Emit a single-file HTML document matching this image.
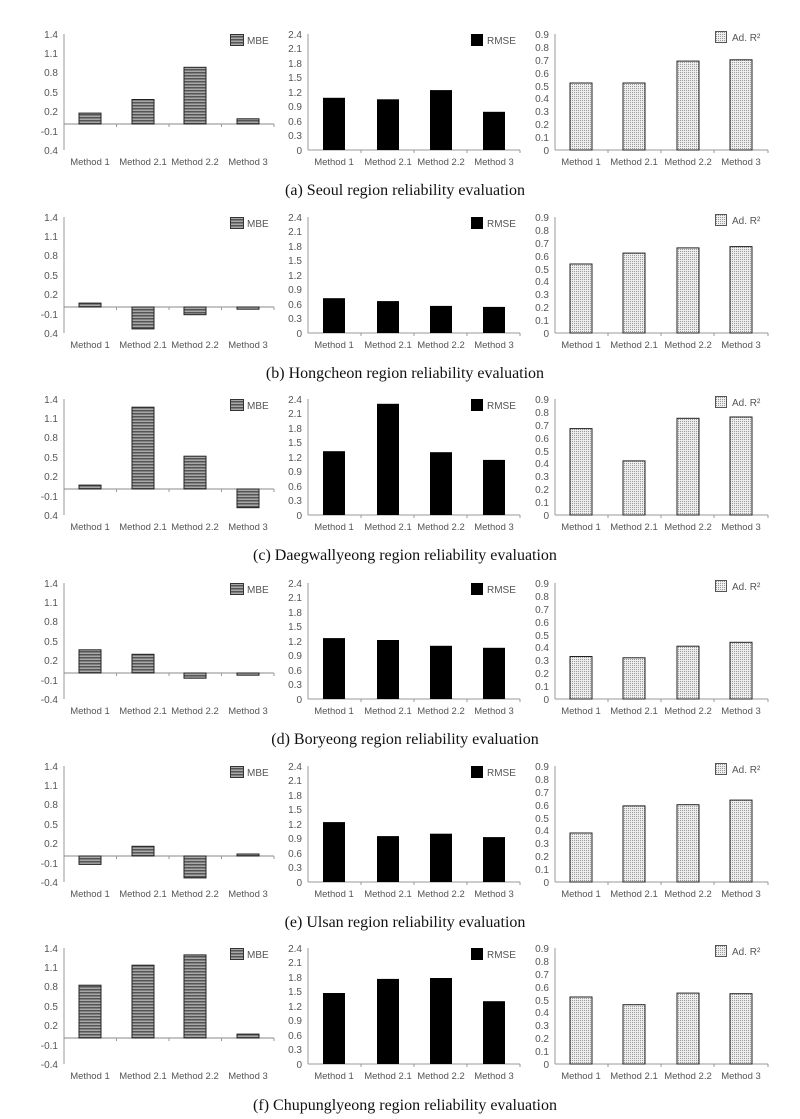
<!DOCTYPE html>
<html><head><meta charset="utf-8"><style>
body{margin:0;background:#fff}
svg{display:block}
.t{font-family:"Liberation Sans",sans-serif;font-size:10px;fill:#555}
.m{font-size:9.5px}
.c{font-family:"Liberation Serif",serif;font-size:16px;fill:#111}
</style></head><body>
<svg width="800" height="1119" viewBox="0 0 800 1119" xmlns="http://www.w3.org/2000/svg">
<defs>
<pattern id="st" patternUnits="userSpaceOnUse" width="4" height="3"><rect width="4" height="3" fill="#a8a8a8"/><rect width="4" height="1.5" fill="#555"/></pattern>
<pattern id="dt" patternUnits="userSpaceOnUse" width="2" height="2"><rect width="2" height="2" fill="#eee"/><rect width="1" height="1" fill="#999"/></pattern>
<g id="frame">
<line x1="64" y1="34" x2="64" y2="150" stroke="#999"/>
<line x1="64" y1="124" x2="274" y2="124" stroke="#888"/>
<path d="M116.5 124v3M169 124v3M221.5 124v3M274 124v3" stroke="#999"/>
<line x1="308" y1="34" x2="308" y2="150" stroke="#999"/>
<line x1="308" y1="150" x2="520" y2="150" stroke="#999"/>
<path d="M361 150v3M414 150v3M467 150v3M520 150v3" stroke="#999"/>
<line x1="555" y1="34" x2="555" y2="150" stroke="#999"/>
<line x1="555" y1="150" x2="768" y2="150" stroke="#999"/>
<path d="M608 150v3M661 150v3M714 150v3M768 150v3" stroke="#999"/>
<rect x="230.5" y="34.5" width="13" height="11" fill="url(#st)" stroke="#333"/>
<rect x="471" y="34" width="12" height="12" fill="#000"/>
<rect x="715.5" y="31.5" width="11" height="11" fill="url(#dt)" stroke="#555"/>
</g>
</defs>
<g transform="translate(0,0)">
<use href="#frame"/>
<g class="t" text-anchor="end"><text x="58" y="38">1.4</text><text x="58" y="57">1.1</text><text x="58" y="76">0.8</text><text x="58" y="96">0.5</text><text x="58" y="115">0.2</text><text x="58" y="135">-0.1</text><text x="58" y="154">0.4</text>
<text x="302" y="38">2.4</text><text x="302" y="52">2.1</text><text x="302" y="67">1.8</text><text x="302" y="81">1.5</text><text x="302" y="96">1.2</text><text x="302" y="110">0.9</text><text x="302" y="125">0.6</text><text x="302" y="139">0.3</text><text x="302" y="154">0</text>
<text x="549" y="38">0.9</text><text x="549" y="51">0.8</text><text x="549" y="64">0.7</text><text x="549" y="77">0.6</text><text x="549" y="90">0.5</text><text x="549" y="102">0.4</text><text x="549" y="115">0.3</text><text x="549" y="128">0.2</text><text x="549" y="141">0.1</text><text x="549" y="154">0</text></g>
<g class="t m" text-anchor="middle"><text x="90" y="165">Method 1</text><text x="143" y="165">Method 2.1</text><text x="195" y="165">Method 2.2</text><text x="248" y="165">Method 3</text>
<text x="334" y="165">Method 1</text><text x="388" y="165">Method 2.1</text><text x="441" y="165">Method 2.2</text><text x="494" y="165">Method 3</text>
<text x="581" y="165">Method 1</text><text x="634" y="165">Method 2.1</text><text x="688" y="165">Method 2.2</text><text x="741" y="165">Method 3</text></g>
<text class="t" x="247" y="44">MBE</text><text class="t" x="487" y="44">RMSE</text><text class="t" x="732" y="41">Ad. R²</text>
<g stroke="#222" fill="url(#st)"><rect x="79" y="113.1" width="22" height="10.9"/><rect x="132" y="99.5" width="22" height="24.5"/><rect x="184" y="67.3" width="22" height="56.7"/><rect x="237" y="118.8" width="22" height="5.2"/></g>
<g fill="#000"><rect x="323" y="97.8" width="22" height="52.2"/><rect x="377" y="99.3" width="22" height="50.7"/><rect x="430" y="90.1" width="22" height="59.9"/><rect x="483" y="111.8" width="22" height="38.2"/></g>
<g stroke="#222" fill="url(#dt)"><rect x="570" y="83" width="22" height="67"/><rect x="623" y="83" width="22" height="67"/><rect x="677" y="61.1" width="22" height="88.9"/><rect x="730" y="59.8" width="22" height="90.2"/></g>
<text class="c" x="405" y="195" text-anchor="middle">(a) Seoul region reliability evaluation</text>
</g>

<g transform="translate(0,183)">
<use href="#frame"/>
<g class="t" text-anchor="end"><text x="58" y="38">1.4</text><text x="58" y="57">1.1</text><text x="58" y="76">0.8</text><text x="58" y="96">0.5</text><text x="58" y="115">0.2</text><text x="58" y="135">-0.1</text><text x="58" y="154">0.4</text>
<text x="302" y="38">2.4</text><text x="302" y="52">2.1</text><text x="302" y="67">1.8</text><text x="302" y="81">1.5</text><text x="302" y="96">1.2</text><text x="302" y="110">0.9</text><text x="302" y="125">0.6</text><text x="302" y="139">0.3</text><text x="302" y="154">0</text>
<text x="549" y="38">0.9</text><text x="549" y="51">0.8</text><text x="549" y="64">0.7</text><text x="549" y="77">0.6</text><text x="549" y="90">0.5</text><text x="549" y="102">0.4</text><text x="549" y="115">0.3</text><text x="549" y="128">0.2</text><text x="549" y="141">0.1</text><text x="549" y="154">0</text></g>
<g class="t m" text-anchor="middle"><text x="90" y="165">Method 1</text><text x="143" y="165">Method 2.1</text><text x="195" y="165">Method 2.2</text><text x="248" y="165">Method 3</text>
<text x="334" y="165">Method 1</text><text x="388" y="165">Method 2.1</text><text x="441" y="165">Method 2.2</text><text x="494" y="165">Method 3</text>
<text x="581" y="165">Method 1</text><text x="634" y="165">Method 2.1</text><text x="688" y="165">Method 2.2</text><text x="741" y="165">Method 3</text></g>
<text class="t" x="247" y="44">MBE</text><text class="t" x="487" y="44">RMSE</text><text class="t" x="732" y="41">Ad. R²</text>
<g stroke="#222" fill="url(#st)"><rect x="79" y="120.1" width="22" height="3.9"/><rect x="132" y="124" width="22" height="21.9"/><rect x="184" y="124" width="22" height="7.7"/><rect x="237" y="124" width="22" height="2.2"/></g>
<g fill="#000"><rect x="323" y="115.2" width="22" height="34.8"/><rect x="377" y="118.1" width="22" height="31.9"/><rect x="430" y="122.9" width="22" height="27.1"/><rect x="483" y="123.9" width="22" height="26.1"/></g>
<g stroke="#222" fill="url(#dt)"><rect x="570" y="81" width="22" height="69"/><rect x="623" y="70.1" width="22" height="79.9"/><rect x="677" y="64.9" width="22" height="85.1"/><rect x="730" y="63.6" width="22" height="86.4"/></g>
<text class="c" x="405" y="195" text-anchor="middle">(b) Hongcheon region reliability evaluation</text>
</g>

<g transform="translate(0,365)">
<use href="#frame"/>
<g class="t" text-anchor="end"><text x="58" y="38">1.4</text><text x="58" y="57">1.1</text><text x="58" y="76">0.8</text><text x="58" y="96">0.5</text><text x="58" y="115">0.2</text><text x="58" y="135">-0.1</text><text x="58" y="154">0.4</text>
<text x="302" y="38">2.4</text><text x="302" y="52">2.1</text><text x="302" y="67">1.8</text><text x="302" y="81">1.5</text><text x="302" y="96">1.2</text><text x="302" y="110">0.9</text><text x="302" y="125">0.6</text><text x="302" y="139">0.3</text><text x="302" y="154">0</text>
<text x="549" y="38">0.9</text><text x="549" y="51">0.8</text><text x="549" y="64">0.7</text><text x="549" y="77">0.6</text><text x="549" y="90">0.5</text><text x="549" y="102">0.4</text><text x="549" y="115">0.3</text><text x="549" y="128">0.2</text><text x="549" y="141">0.1</text><text x="549" y="154">0</text></g>
<g class="t m" text-anchor="middle"><text x="90" y="165">Method 1</text><text x="143" y="165">Method 2.1</text><text x="195" y="165">Method 2.2</text><text x="248" y="165">Method 3</text>
<text x="334" y="165">Method 1</text><text x="388" y="165">Method 2.1</text><text x="441" y="165">Method 2.2</text><text x="494" y="165">Method 3</text>
<text x="581" y="165">Method 1</text><text x="634" y="165">Method 2.1</text><text x="688" y="165">Method 2.2</text><text x="741" y="165">Method 3</text></g>
<text class="t" x="247" y="44">MBE</text><text class="t" x="487" y="44">RMSE</text><text class="t" x="732" y="41">Ad. R²</text>
<g stroke="#222" fill="url(#st)"><rect x="79" y="120.1" width="22" height="3.9"/><rect x="132" y="42.2" width="22" height="81.8"/><rect x="184" y="91.2" width="22" height="32.8"/><rect x="237" y="124" width="22" height="18.7"/></g>
<g fill="#000"><rect x="323" y="86.2" width="22" height="63.8"/><rect x="377" y="38.8" width="22" height="111.2"/><rect x="430" y="87.2" width="22" height="62.8"/><rect x="483" y="94.9" width="22" height="55.1"/></g>
<g stroke="#222" fill="url(#dt)"><rect x="570" y="63.6" width="22" height="86.4"/><rect x="623" y="95.9" width="22" height="54.1"/><rect x="677" y="53.3" width="22" height="96.7"/><rect x="730" y="52" width="22" height="98"/></g>
<text class="c" x="405" y="195" text-anchor="middle">(c) Daegwallyeong region reliability evaluation</text>
</g>

<g transform="translate(0,549)">
<use href="#frame"/>
<g class="t" text-anchor="end"><text x="58" y="38">1.4</text><text x="58" y="57">1.1</text><text x="58" y="76">0.8</text><text x="58" y="96">0.5</text><text x="58" y="115">0.2</text><text x="58" y="135">-0.1</text><text x="58" y="154">-0.4</text>
<text x="302" y="38">2.4</text><text x="302" y="52">2.1</text><text x="302" y="67">1.8</text><text x="302" y="81">1.5</text><text x="302" y="96">1.2</text><text x="302" y="110">0.9</text><text x="302" y="125">0.6</text><text x="302" y="139">0.3</text><text x="302" y="154">0</text>
<text x="549" y="38">0.9</text><text x="549" y="51">0.8</text><text x="549" y="64">0.7</text><text x="549" y="77">0.6</text><text x="549" y="90">0.5</text><text x="549" y="102">0.4</text><text x="549" y="115">0.3</text><text x="549" y="128">0.2</text><text x="549" y="141">0.1</text><text x="549" y="154">0</text></g>
<g class="t m" text-anchor="middle"><text x="90" y="165">Method 1</text><text x="143" y="165">Method 2.1</text><text x="195" y="165">Method 2.2</text><text x="248" y="165">Method 3</text>
<text x="334" y="165">Method 1</text><text x="388" y="165">Method 2.1</text><text x="441" y="165">Method 2.2</text><text x="494" y="165">Method 3</text>
<text x="581" y="165">Method 1</text><text x="634" y="165">Method 2.1</text><text x="688" y="165">Method 2.2</text><text x="741" y="165">Method 3</text></g>
<text class="t" x="247" y="44">MBE</text><text class="t" x="487" y="44">RMSE</text><text class="t" x="732" y="41">Ad. R²</text>
<g stroke="#222" fill="url(#st)"><rect x="79" y="100.8" width="22" height="23.2"/><rect x="132" y="105.3" width="22" height="18.7"/><rect x="184" y="124" width="22" height="5.2"/><rect x="237" y="124" width="22" height="2.2"/></g>
<g fill="#000"><rect x="323" y="89.1" width="22" height="60.9"/><rect x="377" y="91" width="22" height="59"/><rect x="430" y="96.8" width="22" height="53.2"/><rect x="483" y="98.8" width="22" height="51.2"/></g>
<g stroke="#222" fill="url(#dt)"><rect x="570" y="107.5" width="22" height="42.5"/><rect x="623" y="108.8" width="22" height="41.2"/><rect x="677" y="97.2" width="22" height="52.8"/><rect x="730" y="93.3" width="22" height="56.7"/></g>
<text class="c" x="405" y="195" text-anchor="middle">(d) Boryeong region reliability evaluation</text>
</g>

<g transform="translate(0,732)">
<use href="#frame"/>
<g class="t" text-anchor="end"><text x="58" y="38">1.4</text><text x="58" y="57">1.1</text><text x="58" y="76">0.8</text><text x="58" y="96">0.5</text><text x="58" y="115">0.2</text><text x="58" y="135">-0.1</text><text x="58" y="154">-0.4</text>
<text x="302" y="38">2.4</text><text x="302" y="52">2.1</text><text x="302" y="67">1.8</text><text x="302" y="81">1.5</text><text x="302" y="96">1.2</text><text x="302" y="110">0.9</text><text x="302" y="125">0.6</text><text x="302" y="139">0.3</text><text x="302" y="154">0</text>
<text x="549" y="38">0.9</text><text x="549" y="51">0.8</text><text x="549" y="64">0.7</text><text x="549" y="77">0.6</text><text x="549" y="90">0.5</text><text x="549" y="102">0.4</text><text x="549" y="115">0.3</text><text x="549" y="128">0.2</text><text x="549" y="141">0.1</text><text x="549" y="154">0</text></g>
<g class="t m" text-anchor="middle"><text x="90" y="165">Method 1</text><text x="143" y="165">Method 2.1</text><text x="195" y="165">Method 2.2</text><text x="248" y="165">Method 3</text>
<text x="334" y="165">Method 1</text><text x="388" y="165">Method 2.1</text><text x="441" y="165">Method 2.2</text><text x="494" y="165">Method 3</text>
<text x="581" y="165">Method 1</text><text x="634" y="165">Method 2.1</text><text x="688" y="165">Method 2.2</text><text x="741" y="165">Method 3</text></g>
<text class="t" x="247" y="44">MBE</text><text class="t" x="487" y="44">RMSE</text><text class="t" x="732" y="41">Ad. R²</text>
<g stroke="#222" fill="url(#st)"><rect x="79" y="124" width="22" height="8.4"/><rect x="132" y="114.3" width="22" height="9.7"/><rect x="184" y="124" width="22" height="21.9"/><rect x="237" y="122" width="22" height="2"/></g>
<g fill="#000"><rect x="323" y="90.1" width="22" height="59.9"/><rect x="377" y="104.1" width="22" height="45.9"/><rect x="430" y="101.7" width="22" height="48.3"/><rect x="483" y="105.1" width="22" height="44.9"/></g>
<g stroke="#222" fill="url(#dt)"><rect x="570" y="101" width="22" height="49"/><rect x="623" y="73.9" width="22" height="76.1"/><rect x="677" y="72.7" width="22" height="77.3"/><rect x="730" y="68.1" width="22" height="81.9"/></g>
<text class="c" x="405" y="195" text-anchor="middle">(e) Ulsan region reliability evaluation</text>
</g>

<g transform="translate(0,914)">
<use href="#frame"/>
<g class="t" text-anchor="end"><text x="58" y="38">1.4</text><text x="58" y="57">1.1</text><text x="58" y="76">0.8</text><text x="58" y="96">0.5</text><text x="58" y="115">0.2</text><text x="58" y="135">-0.1</text><text x="58" y="154">-0.4</text>
<text x="302" y="38">2.4</text><text x="302" y="52">2.1</text><text x="302" y="67">1.8</text><text x="302" y="81">1.5</text><text x="302" y="96">1.2</text><text x="302" y="110">0.9</text><text x="302" y="125">0.6</text><text x="302" y="139">0.3</text><text x="302" y="154">0</text>
<text x="549" y="38">0.9</text><text x="549" y="51">0.8</text><text x="549" y="64">0.7</text><text x="549" y="77">0.6</text><text x="549" y="90">0.5</text><text x="549" y="102">0.4</text><text x="549" y="115">0.3</text><text x="549" y="128">0.2</text><text x="549" y="141">0.1</text><text x="549" y="154">0</text></g>
<g class="t m" text-anchor="middle"><text x="90" y="165">Method 1</text><text x="143" y="165">Method 2.1</text><text x="195" y="165">Method 2.2</text><text x="248" y="165">Method 3</text>
<text x="334" y="165">Method 1</text><text x="388" y="165">Method 2.1</text><text x="441" y="165">Method 2.2</text><text x="494" y="165">Method 3</text>
<text x="581" y="165">Method 1</text><text x="634" y="165">Method 2.1</text><text x="688" y="165">Method 2.2</text><text x="741" y="165">Method 3</text></g>
<text class="t" x="247" y="44">MBE</text><text class="t" x="487" y="44">RMSE</text><text class="t" x="732" y="41">Ad. R²</text>
<g stroke="#222" fill="url(#st)"><rect x="79" y="71.2" width="22" height="52.8"/><rect x="132" y="51.2" width="22" height="72.8"/><rect x="184" y="40.9" width="22" height="83.1"/><rect x="237" y="120.1" width="22" height="3.9"/></g>
<g fill="#000"><rect x="323" y="79" width="22" height="71"/><rect x="377" y="64.9" width="22" height="85.1"/><rect x="430" y="64" width="22" height="86"/><rect x="483" y="87.2" width="22" height="62.8"/></g>
<g stroke="#222" fill="url(#dt)"><rect x="570" y="83" width="22" height="67"/><rect x="623" y="90.7" width="22" height="59.3"/><rect x="677" y="79.1" width="22" height="70.9"/><rect x="730" y="79.7" width="22" height="70.3"/></g>
<text class="c" x="405" y="196" text-anchor="middle">(f) Chupunglyeong region reliability evaluation</text>
</g>
</svg>
</body></html>
